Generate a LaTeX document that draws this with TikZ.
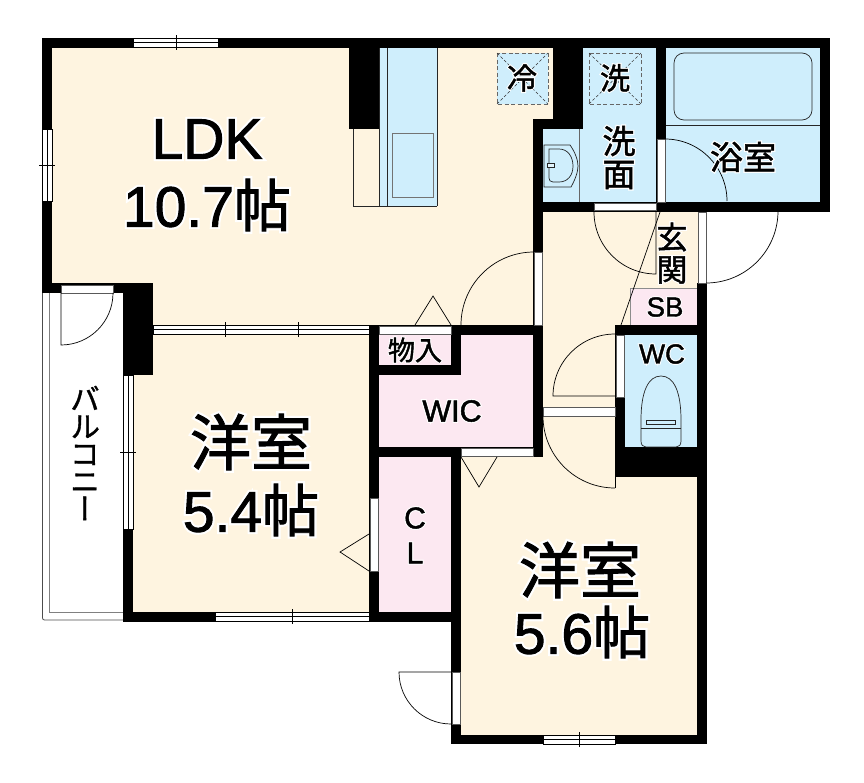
\documentclass[tikz,border=0pt]{standalone}
\usepackage{fontspec}
\setmainfont[FakeBold=1.6]{Liberation Sans}
\newfontfamily\cjk[FakeBold=1.6]{Noto Sans CJK JP}
\newfontfamily\cjkv[RawFeature=+vert,FakeBold=1.2]{Noto Sans CJK JP}
\newfontfamily\latinhalo[FakeBold=9]{Liberation Sans}
\newfontfamily\cjkhalo[FakeBold=9]{Noto Sans CJK JP}

\definecolor{cream}{HTML}{FEF4E0}
\definecolor{wetblue}{HTML}{CFEEFC}
\definecolor{closetpink}{HTML}{FCE8F1}
\definecolor{paneline}{gray}{0.35}

% white halo under a room label: name, position, size, text
\newcommand{\roomlabel}[4]{
  \node[roomtext, text=white, font=\let\cjk\cjkhalo\latinhalo\fontsize{#3}{#3}\selectfont] (#1-halo) at (#2) {#4};
  \node[roomtext, font=\fontsize{#3}{#3}\selectfont] (#1) at (#2) {#4};
}

\begin{document}
\begin{tikzpicture}[
    x=1pt, y=1pt, yscale=-1,
    wall/.style={fill=black},
    pane/.style={fill=white, draw=paneline, line width=0.5pt},
    swing/.style={draw=black, line width=0.7pt},
    fixture/.style={draw=black!85, line width=0.7pt},
    roomtext/.style={inner sep=0pt, align=center, text=black},
    washspot/.style={draw=black!60, line width=0.8pt, dash pattern=on 4pt off 2.5pt}
  ]

    \useasboundingbox (0,0) rectangle (864,782);

    % Floors
    \fill[cream] (42,38) -- (556,38) -- (556,122) -- (540,122) -- (540,330)
      -- (133,330) -- (133,293) -- (42,293) -- cycle;
    \fill[cream] (133,330) rectangle (375,617);
    \fill[cream] (455,450) rectangle (700,740);
    \fill[cream] (540,205) rectangle (700,480);
    \fill[wetblue] (583,45) rectangle (660,205);
    \fill[wetblue] (540,125) rectangle (590,205);
    \fill[wetblue] (660,45) rectangle (825,205);
    \fill[wetblue] (620,330) rectangle (700,450);
    \fill[closetpink] (375,330) rectangle (537,452);
    \fill[closetpink] (375,452) rectangle (455,615);
    \fill[closetpink, draw=black!45, line width=0.5pt] (630,288) rectangle (697,325);

    % Kitchen
    \fill[wetblue] (379,47) rectangle (437,206);
    \draw[fixture, line width=0.8pt] (379,47) -- (379,206) (387.5,47) -- (387.5,206)
      (437,47) -- (437,206) (353,129) -- (353,206) -- (437,206);
    \draw[draw=black!55, line width=0.9pt] (392,133) rectangle (433,197);

    % Balcony
    \draw[black!70, line width=0.8pt, rounded corners=2pt] (42.5,293) -- (42.5,620) -- (123,620);
    \draw[black!50, line width=0.8pt] (49.5,293) -- (49.5,612) -- (123,612);

    % Walls
    \foreach \xa/\ya/\xb/\yb in {
      42/38/830/48, 42/38/52/293, 42/283/153/293, 123/283/153/375, 123/375/133/622,
      123/612/461/622, 369/325/379/622, 369/325/542/335, 451/325/461/375, 369/365/461/375,
      369/447/461/457, 451/447/461/744, 451/447/543/457, 533/119/543/457, 349/48/379/129,
      553/48/583/129, 533/119/583/129, 656/48/666/212, 820/38/830/212, 533/202/830/212,
      697/283/707/744, 615/325/707/335, 615/325/625/477, 615/447/707/477, 451/735/707/744} {
      \fill[wall] (\xa,\ya) rectangle (\xb,\yb);
    }

    % Door panes
    \foreach \xa/\ya/\xb/\yb in {
      61/285/113/293, 379/326/451/334, 461/448/533/456, 534/252/542/325, 657/139/665/202,
      594/203/656/210, 698/212/706/283, 616/335/624/397, 543/407.5/615/416, 370/498/378/571,
      452/672/460/724} {
      \draw[pane] (\xa,\ya) rectangle (\xb,\yb);
    }

    % Windows along x
    \foreach \xa/\xb/\ya in {133/218/38, 153/369/325, 215/369/612, 543/615/735} {
      \fill[white] (\xa,\ya) rectangle (\xb,\ya+9.5);
      \draw[black, line width=0.7pt] (\xa,\ya) rectangle (\xb,\ya+9.5) (\xa,\ya+4.8) -- (\xb,\ya+4.8);
    }
    % Windows along y
    \foreach \ya/\yb/\xa in {129/201/42, 375/529/123} {
      \fill[white] (\xa,\ya) rectangle (\xa+10,\yb);
      \draw[black, line width=0.7pt] (\xa,\ya) rectangle (\xa+10,\yb) (\xa+5,\ya) -- (\xa+5,\yb);
    }
    % Window ticks
    \foreach \xa/\ya in {176/38, 225/325, 298/325, 292/612, 579/735} {
      \draw[black, line width=0.7pt] (\xa,\ya-3) -- (\xa,\ya+12);
    }
    \foreach \xa/\ya in {42/165, 123/452} {
      \draw[black, line width=0.7pt] (\xa-3,\ya) -- (\xa+12.5,\ya);
    }

    % Door swings
    \draw[swing] (534,252) arc[start angle=270, end angle=180, radius=73];
    \draw[swing] (61,293) -- (61,345) arc[start angle=90, end angle=0, radius=52];
    \draw[swing] (665,139) arc[start angle=270, end angle=360, radius=62];
    \draw[swing] (656,212) -- (656,274) arc[start angle=90, end angle=180, radius=62];
    \draw[swing] (706,283) arc[start angle=90, end angle=0, radius=72];
    \draw[swing] (615,334) arc[start angle=270, end angle=180, radius=62] -- (615,396);
    \draw[swing] (615,488) arc[start angle=90, end angle=180, radius=72];
    \draw[swing] (615,477) -- (615,488);
    \draw[swing] (451,672) -- (399,672) arc[start angle=180, end angle=90, radius=52];

    % Folding door marks
    \draw[swing] (415,325) -- (433,296) -- (451,325);
    \draw[swing] (461,457) -- (479,487) -- (497,457);
    \draw[swing] (369,534) -- (340,552) -- (369,571);

    % Entrance step
    \draw[swing] (660,212) -- (621,325);

    % Washer and fridge spots
    \foreach \xa/\ya/\xb/\yb/\fillc in {497/53/548/104/wetblue, 589/53/641/104/wetblue} {
      \fill[\fillc] (\xa,\ya) rectangle (\xb,\yb);
      \draw[washspot] (\xa,\ya) rectangle (\xb,\yb);
      \draw[black!80, line width=0.5pt, dash pattern=on 3pt off 2pt] (\xa,\ya) -- (\xb,\yb) (\xa,\yb) -- (\xb,\ya);
    }

    % Bath tub
    \draw[fixture, rounded corners=10pt] (674,53) rectangle (812,120);
    \draw[fixture, line width=0.6pt] (666,125) -- (820,125);

    % Wash basin
    \draw[black!60, line width=0.6pt] (579,129) -- (579,202);
    \draw[fixture] (544,145) -- (570,145) .. controls (575,152) and (578,160) .. (578,166)
      .. controls (578,172) and (575,180) .. (571,187) -- (544,187) -- cycle;
    \draw[fixture] (549,149) -- (559,149) .. controls (568,149) and (573,157) .. (573,166)
      .. controls (573,175) and (568,182) .. (559,182) -- (553,182)
      .. controls (550,182) and (549,180) .. (549,178) -- cycle;
    \draw[fixture, fill=wetblue!60!white, line width=0.5pt] (547.5,163.5) rectangle (554,167);

    % Toilet
    \draw[fixture] (641,420) .. controls (641,392) and (648,376) .. (661,376)
      .. controls (674,376) and (681,392) .. (681,420) -- (681,441)
      .. controls (681,445) and (679,447) .. (676,447) -- (646,447)
      .. controls (643,447) and (641,445) .. (641,441) -- cycle;
    \draw[fixture, line width=0.6pt] (641,428) -- (681,428);
    \draw[fixture, line width=0.5pt] (646,420.5) rectangle (675,424);

    % Room labels
    \roomlabel{ldk}{207,139}{57}{LDK}
    \roomlabel{ldksize}{207,205}{57}{10.7{\cjk 帖}}
    \roomlabel{westa}{251,442}{61}{\cjk 洋室}
    \roomlabel{westasize}{251,510}{57}{5.4{\cjk 帖}}
    \roomlabel{westb}{580,570}{61}{\cjk 洋室}
    \roomlabel{westbsize}{582,632}{57}{5.6{\cjk 帖}}
    \roomlabel{bath}{743,157}{33}{\cjk 浴室}
    \roomlabel{washa}{619,141}{33}{\cjk 洗}
    \roomlabel{washb}{619,175}{33}{\cjk 面}
    \roomlabel{genkana}{672,237}{31}{\cjk 玄}
    \roomlabel{genkanb}{672,270}{31}{\cjk 関}
    \roomlabel{fridge}{522,78}{30}{\cjk 冷}
    \roomlabel{washer}{615,78}{30}{\cjk 洗}
    \roomlabel{shoebox}{665,307}{27.5}{SB}
    \roomlabel{toilet}{662,354}{27.5}{WC}
    \roomlabel{walkin}{452,411}{30.5}{WIC}
    \roomlabel{storage}{415,350}{27}{\cjk 物入}
    \roomlabel{closeta}{415,518}{30}{C}
    \roomlabel{closetb}{415,553}{30}{L}

    % Balcony label
    \node[roomtext, font=\cjkv\fontsize{30}{27.5}\selectfont] (balcony) at (85,453) {バ\\ル\\コ\\ニ\\ー};

  \end{tikzpicture}
\end{document}
